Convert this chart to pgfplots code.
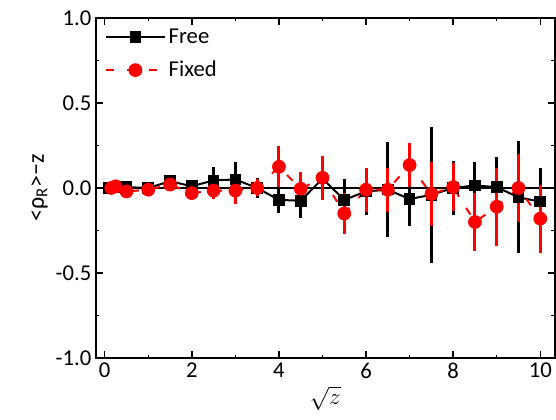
\documentclass[border=0pt]{standalone}
\usepackage{pgfplots}
\pgfplotsset{compat=1.18}
\usepackage{fontspec}
\setmainfont{Carlito}
\definecolor{fixedred}{HTML}{FF0000}

\pgfplotstableread{
x y e
0.1 0.00 0.01
0.25 0.005 0.01
0.5 0.005 0.01
1.0 0.0 0.01
1.5 0.04 0.02
2.0 0.01 0.03
2.5 0.045 0.08
3.0 0.05 0.10
3.5 0.0 0.06
4.0 -0.07 0.08
4.5 -0.075 0.10
5.0 0.055 0.06
5.5 -0.07 0.12
6.0 -0.02 0.14
6.5 -0.01 0.28
7.0 -0.065 0.16
7.5 -0.04 0.40
8.0 0.0 0.16
8.5 0.015 0.14
9.0 0.005 0.18
9.5 -0.055 0.33
10 -0.08 0.20
}\freedata

\pgfplotstableread{
x y e
0.15 0.0 0.02
0.25 0.01 0.02
0.5 -0.02 0.02
1.0 -0.01 0.02
1.5 0.02 0.03
2.0 -0.03 0.03
2.5 -0.015 0.05
3.0 -0.015 0.08
3.5 0.0 0.05
4.0 0.125 0.12
4.5 -0.005 0.10
5.0 0.06 0.13
5.5 -0.15 0.12
6.0 -0.01 0.13
6.5 -0.01 0.13
7.0 0.135 0.13
7.5 -0.035 0.19
8.0 0.005 0.14
8.5 -0.2 0.17
9.0 -0.11 0.23
9.5 0.0 0.2
10 -0.18 0.2
}\fixeddata

\begin{document}
\begin{tikzpicture}
\begin{axis}[
  name=ax,
  width=344pt,height=255pt,scale only axis,
  xmin=-0.2,xmax=10.33,ymin=-1,ymax=1,
  xtick={0,2,...,10},minor x tick num=1,
  ytick={-1,-0.5,0,0.5,1},minor y tick num=1,
  tick align=inside,
  major tick length=5pt,minor tick length=2.5pt,
  axis line style={line width=1.4pt},
  tick style={line width=1.1pt,black},
  yticklabel style={/pgf/number format/fixed,/pgf/number format/fixed zerofill,/pgf/number format/precision=1},
  /pgf/number format/assume math mode=true,
  tick label style={font=\fontsize{17}{20}\selectfont},
  xlabel={$\sqrt{z}$},
  ylabel={<ρ\textsubscript{R}>−z},
  xlabel style={font=\fontsize{18}{20}\selectfont,yshift=1pt},
  ylabel style={font=\fontsize{18}{20}\selectfont,yshift=-1pt},
  legend style={draw=none,fill=none,at={(0.01,0.985)},anchor=north west,
    font=\fontsize{17}{20}\selectfont,row sep=8pt},
  legend cell align=left,
  legend image code/.code={
    \draw[#1,mark repeat=2,mark phase=2] plot coordinates {(0cm,0cm) (0.78cm,0cm) (1.56cm,0cm)};
  },
]
\addplot[black,line width=0.9pt,forget plot] coordinates {(-0.2,0) (10.33,0)};
\addplot[black,line width=1.5pt,mark=square*,mark size=3.6pt,
  mark options={solid},
  error bars/.cd,y dir=both,y explicit,
  error bar style={line width=2.2pt,black},error mark=none]
  table[x=x,y=y,y error=e]{\freedata};
\addlegendentry{Free}
\addplot[fixedred,line width=1.5pt,dash pattern=on 6pt off 10pt,mark=*,mark size=4.4pt,
  mark options={solid,fill=fixedred,draw=fixedred},
  error bars/.cd,y dir=both,y explicit,
  error bar style={line width=2.2pt,fixedred,solid},error mark=none]
  table[x=x,y=y,y error=e]{\fixeddata};
\addlegendentry{Fixed}
\end{axis}
\pgfresetboundingbox
\path ([shift={(-72pt,-46.5pt)}]ax.south west) rectangle ([shift={(1pt,13.5pt)}]ax.north east);
\end{tikzpicture}
\end{document}
